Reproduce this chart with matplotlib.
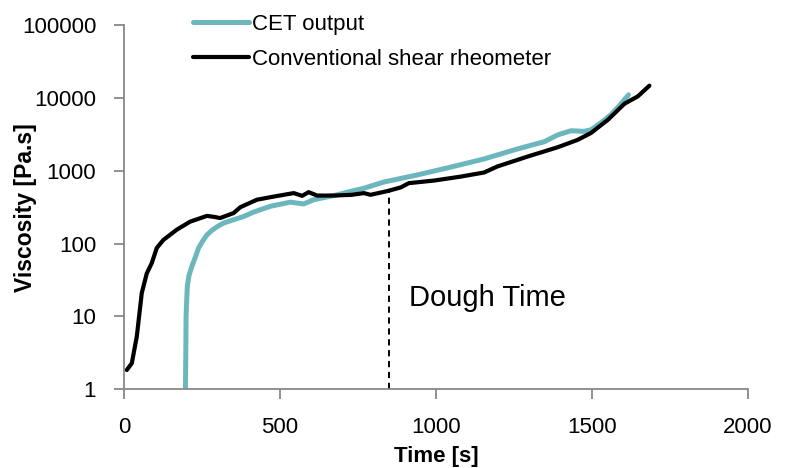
import matplotlib
matplotlib.use("Agg")
import matplotlib.pyplot as plt
from matplotlib.ticker import FixedLocator, FuncFormatter, NullLocator

plt.rcParams['font.family'] = ['Liberation Sans', 'DejaVu Sans']

# CET output
cet_t = [197, 198, 199, 201, 203, 208, 217, 228, 239, 252, 266, 282, 298, 320,
         351, 383, 415, 469, 533, 576, 608, 683, 726, 769, 833, 940, 1047, 1154,
         1261, 1347, 1390, 1433, 1475, 1497, 1530, 1561, 1590, 1617]
cet_v = [1, 3, 10, 17, 26, 36, 48, 64, 87, 108, 132, 152, 170, 192,
         212, 235, 270, 325, 370, 350, 400, 467, 520, 575, 700, 875, 1120, 1450,
         1990, 2500, 3100, 3540, 3470, 3650, 4600, 5900, 8000, 11000]

# conventional shear rheometer
rheo_t = [9, 25, 41, 57, 73, 89, 105, 126, 169, 212, 266, 290, 308, 351, 373,
          426, 480, 544, 571, 592, 619, 672, 730, 769, 790, 844, 887, 913, 994,
          1079, 1154, 1197, 1294, 1390, 1454, 1497, 1551, 1604, 1647, 1684]
rheo_v = [1.84, 2.28, 5.3, 21, 39, 54, 87, 112, 155, 200, 240, 232, 224, 262, 316,
          400, 442, 493, 452, 508, 456, 456, 467, 493, 467, 525, 590, 675, 733,
          830, 945, 1145, 1566, 2100, 2650, 3300, 5000, 8300, 10500, 14700]

dough_t = 850
dough_v = 530

y_ticks = [1, 10, 100, 1000, 10000, 100000]
x_ticks = [0, 500, 1000, 1500, 2000]

fig, ax = plt.subplots(figsize=(7.91, 4.68), dpi=100)
fig.subplots_adjust(left=124/791, right=748/791, bottom=1-389.3/468, top=1-25/468)

ax.plot(cet_t, cet_v, color='#6cb7bd', lw=3.6, label='CET output', solid_capstyle='round')
ax.plot(rheo_t, rheo_v, color='black', lw=3.0, label='Conventional shear rheometer',
        solid_capstyle='round')
ax.plot([dough_t, dough_t], [1, dough_v], color='black', lw=1.4, linestyle=(0, (3.2, 2.4)))
ax.text(912, 13.9, 'Dough Time', fontsize=21, ha='left', va='baseline')

ax.set_yscale('log')
ax.set_xlim(0, 2000)
ax.set_ylim(1, 100000)
ax.yaxis.set_major_locator(FixedLocator(y_ticks))
ax.yaxis.set_minor_locator(NullLocator())
ax.yaxis.set_major_formatter(FuncFormatter(lambda v, p: '%d' % v))
ax.set_xticks(x_ticks)

for s in ['top', 'right']:
    ax.spines[s].set_visible(False)
for s in ['left', 'bottom']:
    ax.spines[s].set_color('#888888')
    ax.spines[s].set_linewidth(1.3)
ax.tick_params(axis='both', which='major', color='#888888', width=1.3, length=7,
               labelsize=16, direction='out')
ax.tick_params(axis='x', pad=13)
ax.tick_params(axis='y', pad=13)

ax.set_xlabel('Time [s]', fontsize=16, fontweight='bold')
ax.set_ylabel('Viscosity [Pa.s]', fontsize=16.5, fontweight='bold')
ax.xaxis.set_label_coords(0.5, -0.156)
ax.yaxis.set_label_coords(-0.139, 0.5)

fig.legend(loc='upper left', bbox_to_anchor=(193/791, 1-14/468), frameon=False,
           fontsize=16, borderpad=0, borderaxespad=0, handlelength=2.5,
           handletextpad=0.15, labelspacing=0.62)

fig.savefig('out.png', dpi=100)
